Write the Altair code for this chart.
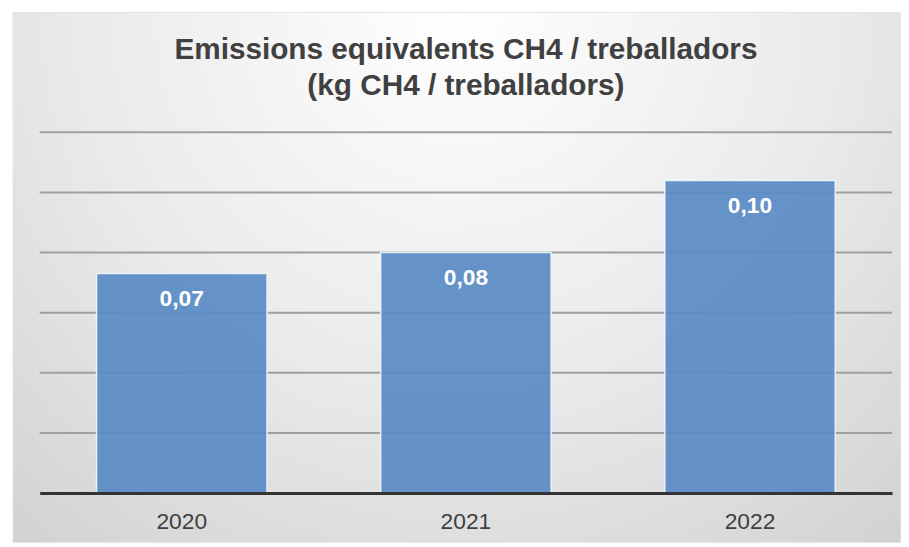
import altair as alt
import pandas as pd

years = ["2020", "2021", "2022"]
values = [0.073, 0.080, 0.104]
grid_values = [0.02, 0.04, 0.06, 0.08, 0.10, 0.12]
title_lines = ["Emissions equivalents CH4 / treballadors", "(kg CH4 / treballadors)"]

df = pd.DataFrame({"year": years, "value": values})
grid_df = pd.DataFrame({"g": grid_values})
bg_df = pd.DataFrame({"a": [0]})

FONT = "Liberation Sans"

yscale = alt.Scale(domain=[0, 0.12], nice=False)
xscale = alt.Scale(paddingInner=0.4, paddingOuter=0.2)

gradient = {
    "gradient": "radial",
    "x1": 0.5, "y1": 0.2, "r1": 0.0,
    "x2": 0.5, "y2": 0.2, "r2": 0.95,
    "stops": [
        {"offset": 0.0, "color": "#ffffff"},
        {"offset": 0.45, "color": "#eaeaea"},
        {"offset": 1.0, "color": "#c6c6c6"},
    ],
}

background = alt.Chart(bg_df).mark_rect(
    fill=gradient, stroke="#e6e6e6", strokeWidth=1
).encode(
    x=alt.value(-27), x2=alt.value(869), y=alt.value(-121), y2=alt.value(414)
)

grid = alt.Chart(grid_df).mark_rule(color="#9f9f9f", strokeWidth=2).encode(
    y=alt.Y("g:Q", scale=yscale, axis=None),
    x=alt.value(0), x2=alt.value(860),
)

bars = alt.Chart(df).mark_bar(
    color="#5b8cc6", opacity=0.93, stroke="#eef3fa", strokeWidth=1.5
).encode(
    x=alt.X("year:N", scale=xscale, sort=years, title=None,
            axis=alt.Axis(labelAngle=0, labelFont=FONT, labelFontSize=23,
                          labelColor="#404040", ticks=False, labelPadding=36,
                          labelBaseline="alphabetic", zindex=2,
                          domainColor="#333333", domainWidth=3, grid=False)),
    y=alt.Y("value:Q", scale=yscale, axis=None),
)

labels = alt.Chart(df).transform_calculate(
    label="replace(format(datum.value, '.2f'), '.', ',')"
).mark_text(
    font=FONT, fontSize=23, fontWeight="bold", color="white",
    baseline="alphabetic", dy=33
).encode(
    x=alt.X("year:N", scale=xscale, sort=years),
    y=alt.Y("value:Q", scale=yscale),
    text="label:N",
)

chart = alt.layer(background, grid, bars, labels).properties(
    width=860, height=364,
    autosize=alt.AutoSizeParams(type="none"),
    padding={"left": 32, "top": 123, "right": 9, "bottom": 50},
    title=alt.TitleParams(
        text=title_lines, font=FONT, fontSize=30, fontWeight="bold",
        color="#404040", lineHeight=36, anchor="middle", offset=34, dy=124,
    ),
).configure_view(stroke=None).configure(background="white")

chart.save("out.html", embed_options={"renderer": "svg", "actions": False})
